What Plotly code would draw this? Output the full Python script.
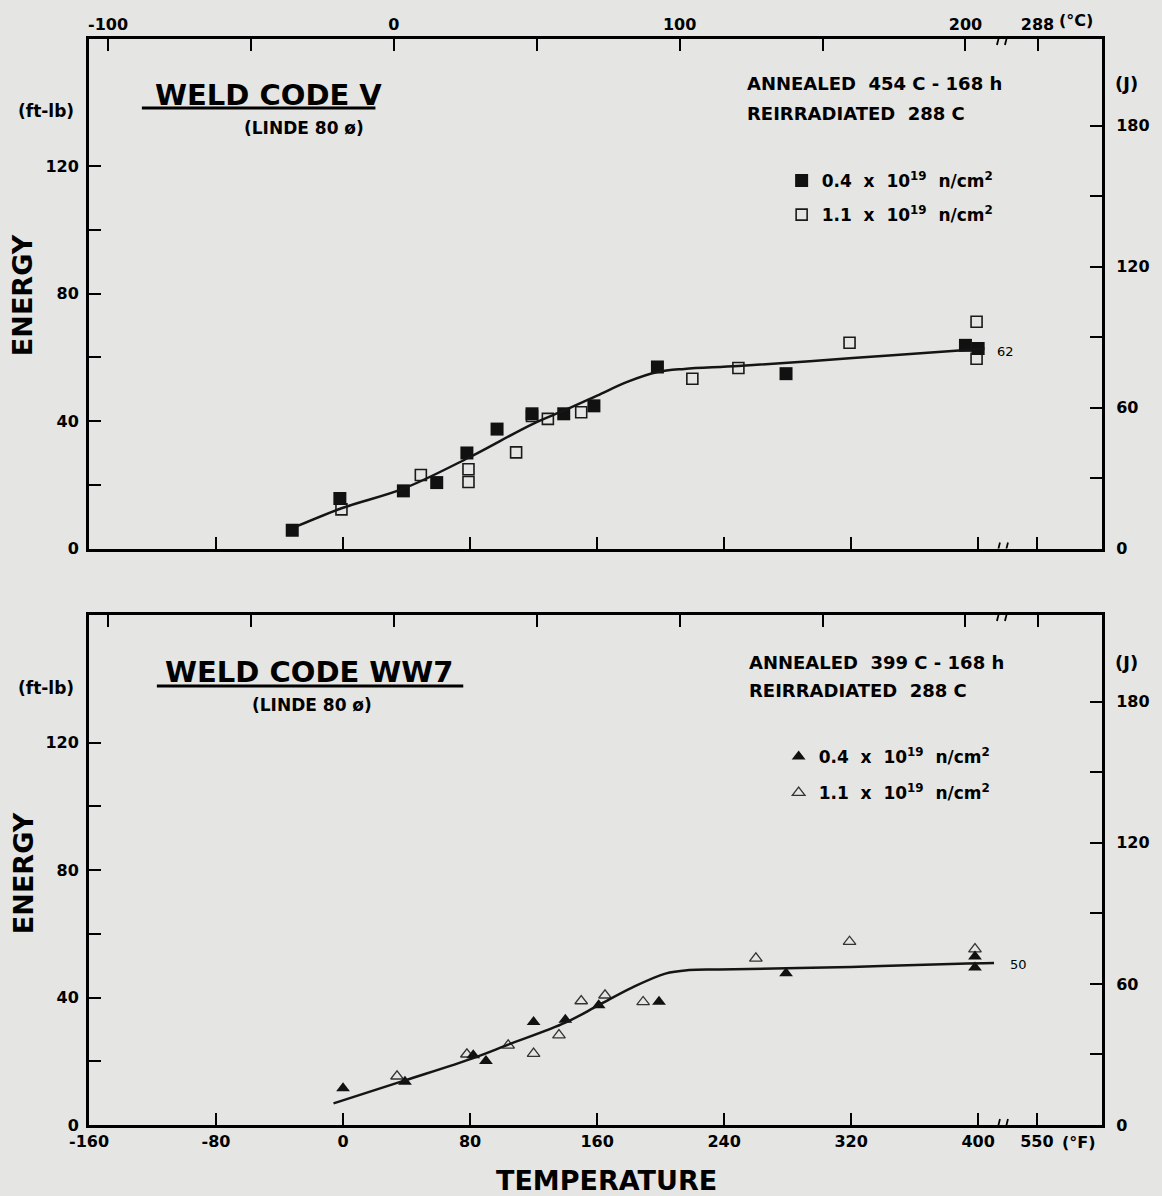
import plotly.graph_objects as go

# ---------------- data (temperature in °F, energy in ft-lb) ----------------
F_TICKS = [-160, -80, 0, 80, 160, 240, 320, 400, 550]
F_LABELS = ['-160', '-80', '0', '80', '160', '240', '320', '400', '550']
C_TICKS = [-100, 0, 100, 200, 288]
C_LABELS = ['-100', '0', '100', '200', '288']
C_MINOR = [-50, 50, 150]
FTLB_TICKS = [0, 40, 80, 120]
FTLB_LABELS = ['0', '40', '80', '120']
FTLB_MINOR = [20, 60, 100]
J_TICKS = [0, 60, 120, 180]
J_LABELS = ['0', '60', '120', '180']
J_MINOR = [30, 90, 150]

# upper panel (squares)
sq_low_T = [-32, -2, 38, 59, 78, 97, 119, 139, 158, 198, 279, 392, 400]
sq_low_E = [5.7, 15.7, 18.1, 20.7, 30, 37.5, 42.3, 42.3, 44.8, 57, 54.9, 63.8, 62.8]
sq_high_T = [-1, 49, 79, 79, 109, 119, 129, 150, 220, 249, 319, 399, 399]
sq_high_E = [12.3, 23.1, 24.9, 20.9, 30.2, 41.6, 40.7, 42.8, 53.3, 56.7, 64.6, 71.2, 59.6]
fit_top_T = [-29, 0, 38, 79, 119, 140, 160, 179, 198, 215, 249, 321, 388, 404]
fit_top_E = [7, 12.8, 18.8, 28.5, 39, 43.5, 48, 52.3, 55.4, 56.4, 57.3, 59.8, 62.2, 62.8]

# lower panel (triangles)
tri_low_T = [0, 39, 82, 90, 120, 140, 161, 199, 279, 398, 398]
tri_low_E = [11.5, 13.6, 21.9, 20.1, 32.3, 33, 37.6, 38.7, 47.6, 52.9, 49.4]
tri_high_T = [34, 78, 104, 120, 136, 150, 165, 189, 260, 319, 398]
tri_high_E = [15.3, 22.2, 25, 22.4, 28.2, 38.9, 40.7, 38.6, 52.3, 57.5, 55.2]
fit_bot_T = [-6, 39, 82, 104, 140, 161, 182, 203, 218, 237, 320, 388, 410]
fit_bot_E = [6.8, 14, 21, 25.2, 32.1, 37.6, 43.1, 47.5, 48.6, 48.8, 49.6, 50.6, 50.8]

FT_TO_J = 1.3558
BREAK_U = 415        # axis position of the scale break
BREAK_SHIFT = 113    # temperatures beyond the break are shifted by this amount


def disp(t):
    return t if t <= BREAK_U else t - BREAK_SHIFT


def c_to_f(c):
    return c * 1.8 + 32


XR = [-160, 478]
BG = '#e5e5e3'
FAM = 'DejaVu Sans'
TF = dict(family=FAM, size=16, color='black', weight='bold')

# pixel helpers for text placement
PX_L, PX_R, PX_T, PX_B = 89, 1104, 39, 1125


def xp(px):
    return (px - PX_L) / (PX_R - PX_L)


def yp(py):
    return (PX_B - py) / (PX_B - PX_T)


fig = go.Figure()

# ---- upper panel ----  (fit curve drawn on the J / °C axes, same scale)
fig.add_trace(go.Scatter(x=[disp(t) for t in fit_top_T], y=[e * FT_TO_J for e in fit_top_E],
                         mode='lines',
                         line=dict(color='#151515', width=2.5, shape='spline', smoothing=1.0),
                         xaxis='x3', yaxis='y3', showlegend=False, hoverinfo='skip'))
fig.add_trace(go.Scatter(x=[disp(t) for t in sq_high_T], y=sq_high_E, mode='markers',
                         marker=dict(symbol='square-open', size=11, color='#1a1a1a', line=dict(width=1.6)),
                         xaxis='x', yaxis='y', name='1.1  x  10<sup>19</sup>  n/cm<sup>2</sup>',
                         legend='legend', legendgroup='b', legendrank=2))
fig.add_trace(go.Scatter(x=[disp(t) for t in sq_low_T], y=sq_low_E, mode='markers',
                         marker=dict(symbol='square', size=13, color='#111111'),
                         xaxis='x', yaxis='y', name='0.4  x  10<sup>19</sup>  n/cm<sup>2</sup>',
                         legend='legend', legendgroup='a', legendrank=1))

# ---- lower panel ----
fig.add_trace(go.Scatter(x=[disp(t) for t in fit_bot_T], y=[e * FT_TO_J for e in fit_bot_E],
                         mode='lines',
                         line=dict(color='#151515', width=2.5, shape='spline', smoothing=1.0),
                         xaxis='x4', yaxis='y4', showlegend=False, hoverinfo='skip'))
fig.add_trace(go.Scatter(x=[disp(t) for t in tri_high_T], y=tri_high_E, mode='markers',
                         marker=dict(symbol='triangle-up-open', size=11, color='#333333', line=dict(width=1.3)),
                         xaxis='x2', yaxis='y2', name='1.1  x  10<sup>19</sup>  n/cm<sup>2</sup>',
                         legend='legend2', legendgroup='d', legendrank=2))
fig.add_trace(go.Scatter(x=[disp(t) for t in tri_low_T], y=tri_low_E, mode='markers',
                         marker=dict(symbol='triangle-up', size=12, color='#111111'),
                         xaxis='x2', yaxis='y2', name='0.4  x  10<sup>19</sup>  n/cm<sup>2</sup>',
                         legend='legend2', legendgroup='c', legendrank=1))

AX = dict(showline=True, linewidth=3, linecolor='black', ticks='inside', ticklen=12,
          tickwidth=2, tickcolor='black', showgrid=False, zeroline=False, tickfont=TF,
          fixedrange=True, tickmode='array')


def minor(vals):
    return dict(tickmode='array', tickvals=vals, ticks='inside', ticklen=12, tickwidth=2,
                tickcolor='black', showgrid=False)


f_vals = [disp(t) for t in F_TICKS]
c_vals = [disp(c_to_f(c)) for c in C_TICKS]
c_minor = [disp(c_to_f(c)) for c in C_MINOR]

TOP_DOM = [yp(548.5), 1.0]
BOT_DOM = [0.0, yp(615)]

fig.update_layout(
    width=1162, height=1196,
    margin=dict(l=PX_L, r=1162 - PX_R, t=PX_T, b=1196 - PX_B),
    paper_bgcolor=BG, plot_bgcolor=BG,
    font=dict(family=FAM, color='black'),
    hovermode=False,
    xaxis=dict(AX, domain=[0, 1], anchor='y', range=XR, tickvals=f_vals, ticktext=F_LABELS,
               showticklabels=False),
    xaxis2=dict(AX, domain=[0, 1], anchor='y2', range=XR, tickvals=f_vals, ticktext=F_LABELS),
    xaxis3=dict(AX, overlaying='x', side='top', anchor='y', range=XR, tickvals=c_vals,
                ticktext=C_LABELS, minor=minor(c_minor)),
    xaxis4=dict(AX, overlaying='x2', side='top', anchor='y2', range=XR, tickvals=c_vals,
                ticktext=C_LABELS, showticklabels=False, minor=minor(c_minor)),
    yaxis=dict(AX, domain=TOP_DOM, anchor='x', range=[0, 160], tickvals=FTLB_TICKS,
               ticktext=FTLB_LABELS, ticklabelstandoff=4, minor=minor(FTLB_MINOR)),
    yaxis2=dict(AX, domain=BOT_DOM, anchor='x2', range=[0, 160], tickvals=FTLB_TICKS,
                ticktext=FTLB_LABELS, ticklabelstandoff=4, minor=minor(FTLB_MINOR)),
    yaxis3=dict(AX, overlaying='y', side='right', anchor='x', range=[0, 160 * FT_TO_J],
                tickvals=J_TICKS, ticktext=J_LABELS, ticklabelstandoff=8, minor=minor(J_MINOR)),
    yaxis4=dict(AX, overlaying='y2', side='right', anchor='x2', range=[0, 160 * FT_TO_J],
                tickvals=J_TICKS, ticktext=J_LABELS, ticklabelstandoff=8, minor=minor(J_MINOR)),
    legend=dict(x=xp(783), y=yp(163), xanchor='left', yanchor='top', bgcolor='rgba(0,0,0,0)',
                font=dict(family=FAM, size=17, color='black', weight='bold'),
                traceorder='grouped', tracegroupgap=9, itemclick=False, itemdoubleclick=False),
    legend2=dict(x=xp(780), y=yp(739), xanchor='left', yanchor='top', bgcolor='rgba(0,0,0,0)',
                 font=dict(family=FAM, size=17, color='black', weight='bold'),
                 traceorder='grouped', tracegroupgap=11, itemclick=False, itemdoubleclick=False),
)

anns = []


def txt(text, px, py, size=18, xanchor='left', bold=True, angle=0):
    anns.append(dict(text=text, x=xp(px), y=yp(py), xref='paper', yref='paper',
                     xanchor=xanchor, yanchor='middle', showarrow=False, textangle=angle,
                     font=dict(family=FAM, size=size, color='black',
                               weight='bold' if bold else 'normal')))


# upper panel text
txt('ANNEALED  454 C - 168 h', 746, 84)
txt('REIRRADIATED  288 C', 746, 114)
txt('(J)', 1129, 84, xanchor='center')
txt('(ft-lb)', 46, 111, size=17, xanchor='center')
txt('WELD CODE V', 153, 95, size=29)
txt('(LINDE 80 ø)', 304, 128, size=17, xanchor='center')
txt('62', 1007, 351, size=13, xanchor='center', bold=False)
txt('ENERGY', 23, 295, size=27, xanchor='center', angle=-90)
txt('(°C)', 1078, 21, size=16, xanchor='center')

# lower panel text
txt('ANNEALED  399 C - 168 h', 748, 662)
txt('REIRRADIATED  288 C', 748, 690)
txt('(J)', 1129, 662, xanchor='center')
txt('(ft-lb)', 46, 688, size=17, xanchor='center')
txt('WELD CODE WW7', 163, 672, size=29)
txt('(LINDE 80 ø)', 312, 705, size=17, xanchor='center')
txt('50', 1020, 964, size=13, xanchor='center', bold=False)
txt('ENERGY', 23, 873, size=27, xanchor='center', angle=-90)
txt('(°F)', 1081, 1142, size=16, xanchor='center')
txt('TEMPERATURE', 608, 1180, size=27, xanchor='center')

fig.update_layout(annotations=anns)

shapes = []
# title underlines
shapes.append(dict(type='line', xref='paper', yref='paper', x0=xp(142), x1=xp(376),
                   y0=yp(108), y1=yp(108), line=dict(color='black', width=3)))
shapes.append(dict(type='line', xref='paper', yref='paper', x0=xp(157), x1=xp(464),
                   y0=yp(686), y1=yp(686), line=dict(color='black', width=3)))

# axis breaks
for xr, yr in (('x', 'y'), ('x2', 'y2')):
    for ya in (0, 160):
        shapes.append(dict(type='rect', xref=xr, yref=yr, xsizemode='pixel', ysizemode='pixel',
                           xanchor=BREAK_U, yanchor=ya, x0=-4, x1=4, y0=-4, y1=4,
                           fillcolor=BG, line=dict(width=0), layer='above'))
        for dx in (-5, 3):
            shapes.append(dict(type='line', xref=xr, yref=yr, xsizemode='pixel', ysizemode='pixel',
                               xanchor=BREAK_U, yanchor=ya, x0=dx, x1=dx + 3, y0=-6, y1=6,
                               line=dict(color='black', width=1.8), layer='above'))

fig.update_layout(shapes=shapes)

fig.write_html('out.html', config=dict(displayModeBar=False, staticPlot=True),
               post_script="document.body.style.margin='0';document.body.style.background='%s';" % BG)
